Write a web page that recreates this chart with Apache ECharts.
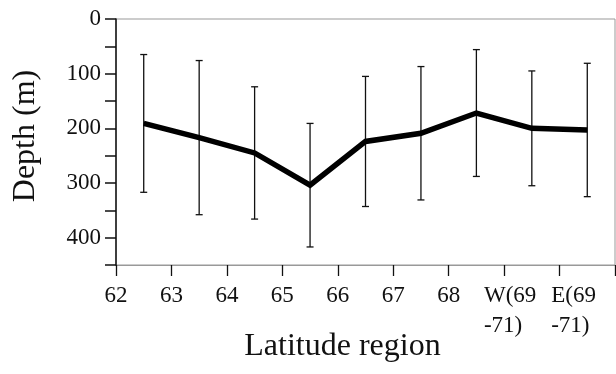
<!DOCTYPE html>
<html>
<head>
<meta charset="utf-8">
<script src="https://cdn.jsdelivr.net/npm/echarts@6/dist/echarts.min.js"></script>
<style>
html,body{margin:0;padding:0;background:#fff;}
#c{width:616px;height:374px;}
</style>
</head>
<body>
<div id="c"></div>
<script>
const categories = ['62', '63', '64', '65', '66', '67', '68', 'W(69\n-71)', 'E(69\n-71)'];
const meanDepth = [191, 217, 245, 304, 224, 209, 172, 200, 203];
const sdDepth = [126, 141, 121, 113, 119, 122, 116, 105, 122];
const yTicks = [0, 100, 200, 300, 400];

const FONT = '"Liberation Serif", "Times New Roman", serif';
const lineData = meanDepth.map((v, i) => [i + 0.5, v]);
const errData = meanDepth.map((v, i) => [i + 0.5, v - sdDepth[i], v + sdDepth[i]]);

const chart = echarts.init(document.getElementById('c'), null, {renderer: 'canvas'});
chart.setOption({
  animation: false,
  backgroundColor: '#fff',
  grid: {left: 116, right: 1, top: 19, bottom: 109, show: true, borderColor: '#999', borderWidth: 1,
         containLabel: false, outerBoundsMode: 'none'},
  xAxis: {
    type: 'value', min: 0, max: categories.length, interval: 1, position: 'bottom',
    name: 'Latitude region', nameLocation: 'middle', nameGap: 66, nameMoveOverlap: false,
    nameTextStyle: {fontFamily: FONT, fontSize: 32, color: '#111', padding: [0, 46, 0, 0]},
    axisLine: {show: true, onZero: false, lineStyle: {color: '#999', width: 1}},
    axisTick: {show: true, length: 11, lineStyle: {color: '#111', width: 1.3}},
    splitLine: {show: false},
    axisLabel: {
      margin: 16, fontFamily: FONT, fontSize: 23, color: '#111', lineHeight: 30,
      showMaxLabel: true,
      formatter: function (v) {
        const c = categories[v];
        if (c === undefined) return '';
        if (c.indexOf('W') === 0) return '{w|' + c + '}';
        if (c.indexOf('E') === 0) return '{e|' + c + '}';
        return c;
      },
      rich: {
        w: {fontFamily: FONT, fontSize: 23, color: '#111', lineHeight: 30, align: 'left', padding: [0, 0, 0, 12]},
        e: {fontFamily: FONT, fontSize: 23, color: '#111', lineHeight: 30, align: 'left', padding: [0, 0, 0, 28]}
      }
    }
  },
  yAxis: {
    type: 'value', inverse: true, min: 0, max: 450, interval: 50,
    name: 'Depth (m)', nameLocation: 'middle', nameGap: 74, nameMoveOverlap: false,
    nameTextStyle: {fontFamily: FONT, fontSize: 32, color: '#111', padding: [0, 0, 0, 12]},
    axisLine: {show: true, onZero: false, lineStyle: {color: '#111', width: 1.5}},
    axisTick: {show: true, length: 11, lineStyle: {color: '#111', width: 1.5}},
    splitLine: {show: false},
    axisLabel: {
      margin: 15, fontFamily: FONT, fontSize: 23, color: '#111',
      formatter: function (v) { return yTicks.indexOf(v) >= 0 ? String(v) : ''; }
    }
  },
  series: [
    {
      type: 'custom',
      data: errData,
      z: 2,
      renderItem: function (params, api) {
        const x = api.value(0);
        const lo = api.coord([x, api.value(1)]);
        const hi = api.coord([x, api.value(2)]);
        const w = 3.5;
        const st = {stroke: '#111', lineWidth: 1.3};
        return {
          type: 'group',
          children: [
            {type: 'line', shape: {x1: lo[0], y1: lo[1], x2: hi[0], y2: hi[1]}, style: st},
            {type: 'line', shape: {x1: lo[0] - w, y1: lo[1], x2: lo[0] + w, y2: lo[1]}, style: st},
            {type: 'line', shape: {x1: hi[0] - w, y1: hi[1], x2: hi[0] + w, y2: hi[1]}, style: st}
          ]
        };
      }
    },
    {
      type: 'line',
      data: lineData,
      z: 3,
      symbol: 'none',
      lineStyle: {color: '#000', width: 5.5, join: 'miter'}
    }
  ]
});
</script>
</body>
</html>
